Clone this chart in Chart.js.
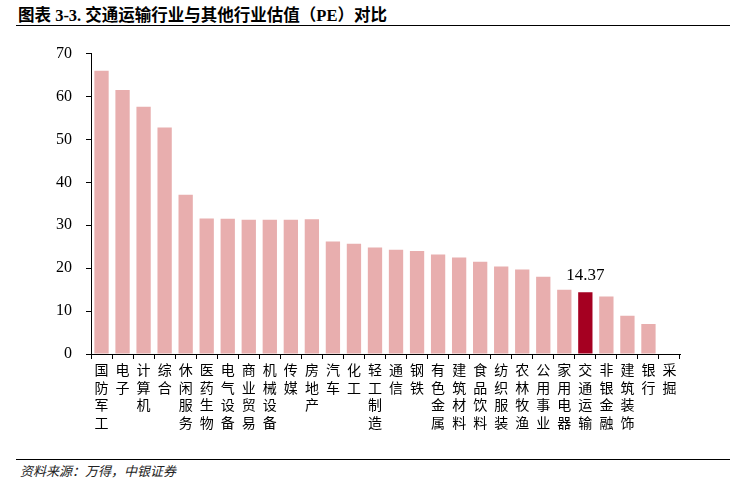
<!DOCTYPE html>
<html>
<head>
<meta charset="utf-8">
<script src="https://cdn.jsdelivr.net/npm/chart.js@4"></script>
<style>
    body { margin: 0; background: #fff; }
    #wrap { position: relative; width: 744px; height: 487px; }
    #title {
        position: absolute; left: 18px; top: 2px;
        font: bold 16.5px "Liberation Serif", "Noto Sans CJK SC";
        color: #000;
    }
    #topline { position: absolute; left: 16px; top: 25px; width: 714px; border-top: 1.5px solid #000; }
    #botline { position: absolute; left: 16px; top: 459px; width: 714px; border-top: 1.5px solid #000; }
    #source {
        position: absolute; left: 20px; top: 461px;
        font: italic 13px "Noto Sans CJK SC";
        color: #222;
    }
    #box { position: absolute; left: 0; top: 30px; width: 744px; height: 420px; }
</style>
</head>
<body>
<div id="wrap">
    <div id="title">图表 3-3. 交通运输行业与其他行业估值（PE）对比</div>
    <div id="topline"></div>
    <div id="box"><canvas id="myChart"></canvas></div>
    <div id="botline"></div>
    <div id="source">资料来源：万得，中银证券</div>
</div>
<script>
    "use strict";

    const industries = ['国防军工', '电子', '计算机', '综合', '休闲服务', '医药生物', '电气设备', '商业贸易',
        '机械设备', '传媒', '房地产', '汽车', '化工', '轻工制造', '通信', '钢铁', '有色金属', '建筑材料',
        '食品饮料', '纺织服装', '农林牧渔', '公用事业', '家用电器', '交通运输', '非银金融', '建筑装饰', '银行', '采掘'];
    const peValues = [66.0, 61.5, 57.6, 52.8, 37.1, 31.6, 31.5, 31.3, 31.3, 31.3, 31.4, 26.2, 25.7, 24.8,
        24.3, 24.0, 23.2, 22.5, 21.5, 20.4, 19.7, 18.0, 15.0, 14.37, 13.4, 8.9, 7.0, 0];
    const highlight = '交通运输';
    const yTicks = [0, 10, 20, 30, 40, 50, 60, 70];

    // vertical labels: one character per line
    const labels = industries.map(s => s.split(''));
    const colors = industries.map(s => s === highlight ? '#A50021' : '#E8AEAE');

    const valueLabel = {
        id: 'valueLabel',
        afterDatasetsDraw(chart) {
            const i = industries.indexOf(highlight);
            const bar = chart.getDatasetMeta(0).data[i];
            const c = chart.ctx;
            c.save();
            c.font = '17px "Liberation Serif"';
            c.fillStyle = '#000';
            c.textAlign = 'center';
            c.textBaseline = 'bottom';
            c.fillText(peValues[i].toFixed(2), bar.x, bar.y - 8);
            c.restore();
        }
    };

    const ctx = document.getElementById('myChart').getContext('2d');
    new Chart(ctx, {
        type: 'bar',
        data: {
            labels: labels,
            datasets: [{
                data: peValues,
                backgroundColor: colors,
                borderWidth: 0,
                barPercentage: 1,
                categoryPercentage: 0.68
            }]
        },
        options: {
            responsive: true,
            maintainAspectRatio: false,
            animation: false,
            layout: { padding: { left: 42, right: 64, top: 16, bottom: 17 } },
            plugins: {
                legend: { display: false },
                tooltip: { enabled: false }
            },
            scales: {
                x: {
                    offset: true,
                    border: { display: true, color: '#000', width: 1 },
                    grid: { offset: true, drawOnChartArea: false, drawTicks: true, tickLength: 5, color: '#000' },
                    ticks: {
                        color: '#000',
                        maxRotation: 0,
                        autoSkip: false,
                        padding: 2,
                        font: { family: '"Noto Sans CJK SC"', size: 14, lineHeight: 1.25 }
                    }
                },
                y: {
                    min: 0,
                    max: 70,
                    afterBuildTicks(axis) {
                        axis.ticks = yTicks.map(v => ({ value: v }));
                    },
                    border: { display: true, color: '#000', width: 1 },
                    grid: { drawOnChartArea: false, drawTicks: true, tickLength: 5, color: '#000' },
                    ticks: {
                        color: '#000',
                        padding: 14,
                        font: { family: '"Liberation Serif"', size: 16 }
                    }
                }
            }
        },
        plugins: [valueLabel]
    });
</script>
</body>
</html>
